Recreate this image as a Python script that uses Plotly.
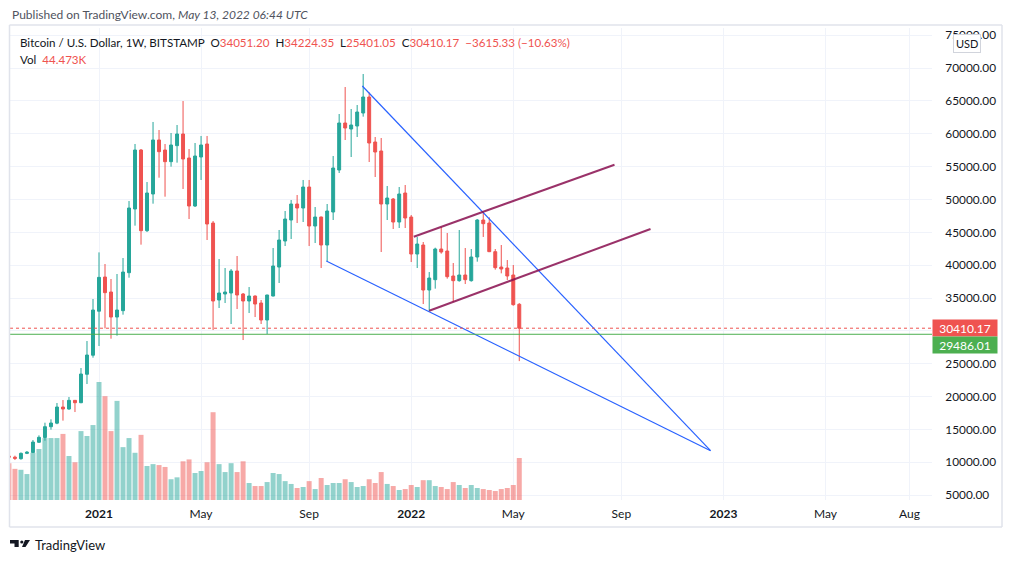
import pandas as pd
import plotly.graph_objects as go

# weekly bars, BTC/USD Bitstamp (Monday opens)
first_week = "2020-09-21"
opens = [10950, 10780, 10550, 11360, 11500, 13050, 13780, 15420, 15960, 18415,
         18110, 19430, 19070, 23400, 26300, 33000, 38200, 35920, 32110, 33080,
         38860, 48555, 57535, 45255, 50840, 59060, 57535, 55760, 58195, 59970,
         56317, 49010, 56468, 58450, 46420, 34700, 35615, 35770, 39120, 35615,
         34550, 35310, 34245, 31660, 35310, 39720, 43680, 46880, 49315, 48705,
         51900, 45965, 47335, 43075, 48097, 54490, 61644, 60731, 61188, 63166,
         65602, 58752, 57382, 49314, 50075, 46574, 50988, 47335, 41703, 43073,
         36223, 37797, 42466, 42161, 38355, 37644, 38507, 37644, 41247, 46880,
         46423, 42059, 39726, 39573, 38507, 34051.20]
highs = [11150, 11006, 11500, 11720, 13390, 14100, 16030, 16540, 19025, 19480,
         19935, 19450, 24350, 28460, 34854, 41950, 40180, 37900, 38660, 41095,
         49770, 58450, 57687, 52660, 61800, 60580, 58450, 60120, 61340, 64990,
         57687, 58600, 59670, 59670, 46730, 40940, 39570, 39420, 41400, 35770,
         36680, 35400, 34700, 35500, 42620, 45360, 48250, 49925, 50685, 52970,
         52970, 48860, 47400, 49315, 56621, 63014, 67124, 63775, 64384, 69103,
         66300, 59513, 59360, 52054, 50227, 51902, 52206, 47640, 44291, 43530,
         38963, 42668, 45814, 44901, 40333, 45358, 42618, 42466, 47032, 48148,
         47285, 42466, 43074, 40790, 40030, 34224.35]
lows = [10350, 10346, 10400, 11250, 11400, 12950, 13290, 14965, 15800, 16340,
        18000, 17650, 19000, 21915, 25925, 27700, 30390, 28815, 29270, 32470,
        38100, 46017, 43125, 45050, 49365, 53320, 50430, 54998, 55607, 51600,
        47030, 48860, 52970, 43835, 30135, 33485, 34245, 31050, 33330, 28610,
        32720, 32110, 31050, 29525, 35250, 37290, 42920, 43990, 46420, 46575,
        42920, 43380, 39570, 40640, 46879, 54033, 59056, 56469, 59513, 62608,
        55708, 53425, 42008, 46879, 45509, 45661, 45661, 40485, 39572, 34092,
        33028, 36428, 41754, 37950, 34398, 37492, 37137, 37500, 40537, 44300,
        42000, 39320, 38761, 37746, 33840, 25401.05]
closes = [10780, 10600, 11360, 11530, 13080, 13800, 15420, 15980, 18415, 18110,
          19430, 19070, 23440, 26330, 33180, 38150, 35820, 32110, 33180, 38960,
          48705, 57535, 45255, 50990, 59060, 57280, 55760, 58296, 59970, 56165,
          49010, 56620, 58296, 46270, 34550, 35770, 35920, 39120, 35465, 34550,
          35310, 34090, 31660, 35465, 39875, 43835, 47030, 49315, 48705, 51900,
          45965, 47335, 43075, 48250, 54794, 61644, 60883, 61340, 63319, 65602,
          58600, 57230, 49314, 50227, 46574, 50836, 47183, 41703, 43225, 36223,
          38050, 42466, 42009, 38253, 37644, 38507, 37797, 41247, 46880, 46321,
          42059, 39623, 39421, 38356, 33991, 30410.17]
volumes = [39000, 33000, 32000, 27500, 50000, 54000, 65600, 65600, 65600, 70000,
           46600, 40000, 73000, 67800, 79400, 125000, 110000, 73000, 105000, 56000,
           65600, 50000, 69000, 36000, 38000, 37000, 35000, 22000, 24000, 41000,
           43000, 28600, 30700, 40000, 93000, 38000, 29600, 39000, 29600, 41000,
           18000, 14800, 14800, 19000, 28600, 27500, 20000, 17000, 12700, 13800,
           20000, 11600, 23300, 15900, 18000, 18000, 22000, 19000, 13800, 14800,
           22000, 18000, 29600, 17000, 14800, 10600, 11600, 15900, 13800, 21000,
           21000, 14800, 13800, 11600, 19000, 15900, 12700, 15900, 12700, 11600,
           10600, 9500, 11600, 12700, 15900, 44473]

last_price = 30410.17
level_price = 29486.01

# drawings: falling wedge (blue) and rising channel (purple)
wedge_top_x = ["2021-11-07", "2022-12-18"]
wedge_top_y = [67280, 11770]
wedge_bot_x = ["2021-09-26", "2022-12-18"]
wedge_bot_y = [40640, 11770]
chan_top_x = ["2022-01-06", "2022-08-28"]
chan_top_y = [44340, 55300]
chan_bot_x = ["2022-01-24", "2022-10-09"]
chan_bot_y = [33075, 45510]

price_ticks = list(range(5000, 80000, 5000))
time_ticks = ["2021-01-04", "2021-05-03", "2021-09-06", "2022-01-03", "2022-05-02",
              "2022-09-05", "2023-01-02", "2023-05-01", "2023-08-07"]
time_labels = ["<b>2021</b>", "May", "Sep", "<b>2022</b>", "May", "Sep", "<b>2023</b>", "May", "Aug"]

GREEN = "#26a69a"
RED = "#ef5350"
TXT = "#131722"
FONT = "Lato, Liberation Sans, sans-serif"

dates = pd.date_range(first_week, periods=len(opens), freq="7D")
vol_colors = ["rgba(38,166,154,0.5)" if c >= o else "rgba(239,83,80,0.5)"
              for o, c in zip(opens, closes)]
# the 30000 label sits under the last-price tag, as on the original
price_labels = ["" if v == 30000 else "%.2f" % v for v in price_ticks]

# pixel helpers for the 1012x563 page (pane is x 10..932, y 28..500)
W, H = 1012, 563
L_, R_, T_, B_ = 10, 932, 28, 500
def px(x):
   return (x - L_) / (R_ - L_)
def py(y):
   return (B_ - y) / (B_ - T_)

day0 = pd.Timestamp("2021-01-04")
px_per_day = 6.004 / 7
x_left = day0 - pd.Timedelta(days=(99 - L_) / px_per_day)
x_right = day0 + pd.Timedelta(days=(R_ - 99) / px_per_day)

fig = go.Figure()

fig.add_trace(go.Bar(x=dates, y=volumes, marker=dict(color=vol_colors, line_width=0),
                     yaxis="y", hoverinfo="skip", showlegend=False))

fig.add_trace(go.Candlestick(
   x=dates, open=opens, high=highs, low=lows, close=closes, yaxis="y2",
   increasing=dict(line=dict(color=GREEN, width=1), fillcolor=GREEN),
   decreasing=dict(line=dict(color=RED, width=1), fillcolor=RED),
   showlegend=False))

for xs, ys, col, w in [(wedge_top_x, wedge_top_y, "#2962ff", 1.2),
                       (wedge_bot_x, wedge_bot_y, "#2962ff", 1.2),
                       (chan_top_x, chan_top_y, "rgba(136,14,79,0.85)", 2),
                       (chan_bot_x, chan_bot_y, "rgba(136,14,79,0.85)", 2)]:
   fig.add_trace(go.Scatter(x=xs, y=ys, mode="lines", yaxis="y2",
                            line=dict(color=col, width=w), hoverinfo="skip", showlegend=False))

fig.add_shape(type="line", xref="paper", yref="y2", x0=0, x1=1, y0=last_price, y1=last_price,
              line=dict(color=RED, width=1, dash="dot"))
fig.add_shape(type="line", xref="paper", yref="y2", x0=0, x1=1, y0=level_price, y1=level_price,
              line=dict(color="#4caf50", width=1))

# outer frame
frame = dict(color="#e0e3eb", width=1.5)
for x0, y0, x1, y1 in [(9.5, 25, 1002, 25), (9.5, 527, 1002, 527),
                       (9.5, 25, 9.5, 527), (1002, 25, 1002, 527)]:
   fig.add_shape(type="line", xref="paper", yref="paper", x0=px(x0), x1=px(x1),
                 y0=py(y0), y1=py(y1), line=frame)

# TradingView logo
logo = "#131722"
fig.add_shape(type="path", xref="paper", yref="paper", fillcolor=logo, line_width=0,
              path="M {} {} L {} {} L {} {} L {} {} L {} {} L {} {} Z".format(
                 px(10), py(540), px(18.7), py(540), px(18.7), py(547), px(14.5), py(547),
                 px(14.5), py(543.5), px(10), py(543.5)))
fig.add_shape(type="circle", xref="paper", yref="paper", fillcolor=logo, line_width=0,
              x0=px(20.2), x1=px(23.4), y0=py(543.6), y1=py(540.4))
fig.add_shape(type="path", xref="paper", yref="paper", fillcolor=logo, line_width=0,
              path="M {} {} L {} {} L {} {} L {} {} Z".format(
                 px(25), py(540), px(30), py(540), px(25.5), py(547), px(22), py(547)))

ann = []
ann.append(dict(x=px(10), y=py(14), xref="paper", yref="paper", xanchor="left", yanchor="middle",
                showarrow=False, font=dict(size=12, color="#50535e", family=FONT),
                text="Published on TradingView.com, <i>May 13, 2022 06:44 UTC</i>"))
r = lambda s: "<span style='color:%s'>%s</span>" % (RED, s)
ann.append(dict(x=px(18), y=py(42), xref="paper", yref="paper", xanchor="left", yanchor="middle",
                showarrow=False, font=dict(size=11.6, color=TXT, family=FONT),
                text="Bitcoin / U.S. Dollar, 1W, BITSTAMP  O" + r("34051.20") + "  H" + r("34224.35")
                + "  L" + r("25401.05") + "  C" + r("30410.17") + "  " + r("\u22123615.33 (\u221210.63%)")))
ann.append(dict(x=px(18), y=py(59), xref="paper", yref="paper", xanchor="left", yanchor="middle",
                showarrow=False, font=dict(size=11.6, color=TXT, family=FONT),
                text="Vol  " + r("44.473K")))
ann.append(dict(x=px(33), y=py(545), xref="paper", yref="paper", xanchor="left", yanchor="middle",
                showarrow=False, font=dict(size=13, color=TXT, family=FONT), text="TradingView"))
ann.append(dict(x=px(967), y=py(43), xref="paper", yref="paper", xanchor="center", yanchor="middle",
                showarrow=False, font=dict(size=11, color=TXT, family=FONT), text="USD",
                bgcolor="white", bordercolor="#d1d4dc", borderwidth=1, borderpad=2))
ann.append(dict(x=px(932), y=last_price, xref="paper", yref="y2", xanchor="left", yanchor="middle",
                showarrow=False, font=dict(size=12, color="white", family=FONT), text="30410.17",
                bgcolor=RED, width=62, height=14, borderpad=1))
ann.append(dict(x=px(932), y=level_price, xref="paper", yref="y2", xanchor="left", yanchor="middle",
                yshift=-11, showarrow=False, font=dict(size=12, color="white", family=FONT),
                text="29486.01", bgcolor="#4caf50", width=62, height=14, borderpad=1))

fig.update_layout(
   width=W, height=H,
   margin=dict(l=L_, r=W - R_, t=T_, b=H - B_),
   paper_bgcolor="white", plot_bgcolor="white",
   bargap=0.17, boxgap=0.3,
   font=dict(family=FONT, color=TXT, size=12),
   annotations=ann,
   xaxis=dict(type="date", range=[x_left, x_right], rangeslider=dict(visible=False),
              tickvals=time_ticks, ticktext=time_labels, showgrid=True, gridcolor="#f0f3fa",
              ticks="outside", ticklen=3, tickcolor="rgba(0,0,0,0)", showline=False, zeroline=False,
              tickfont=dict(size=12, color=TXT)),
   yaxis=dict(range=[0, 500000], visible=False, showgrid=False, fixedrange=True),
   yaxis2=dict(overlaying="y", side="right", range=[4262, 76105], tickvals=price_ticks,
               ticktext=price_labels, showgrid=True, gridcolor="#f0f3fa",
               zeroline=False, showline=False, ticks="outside", ticklen=10,
               tickcolor="rgba(0,0,0,0)", tickfont=dict(size=11.8, color=TXT)),
   hovermode=False,
)

fig.write_html("out.html", config={"displayModeBar": False},
               post_script="document.body.style.margin='0';")
